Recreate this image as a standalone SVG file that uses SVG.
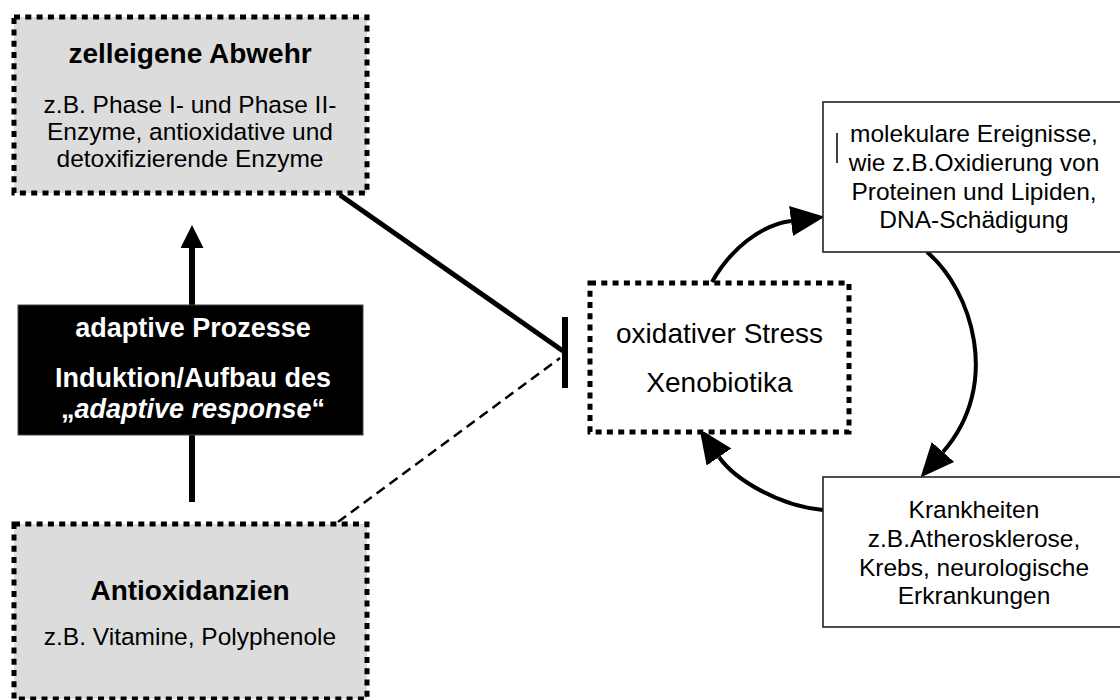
<svg xmlns="http://www.w3.org/2000/svg" width="1120" height="700" viewBox="0 0 1120 700">
  <style>
    text { font-family: "Liberation Sans", Arial, sans-serif; fill: #000; text-anchor: middle; }
    .title { font-size: 28px; font-weight: bold; }
    .body { font-size: 24.5px; }
    .big { font-size: 28px; }
    .inv { font-size: 27px; font-weight: bold; fill: #fff; }
    .dotbox { stroke: #000; stroke-width: 5; stroke-dasharray: 6 5.3; }
    .gray { fill: #dcdcdc; }
    .plain { fill: #fff; stroke: #222; stroke-width: 1.6; }
    .conn { fill: none; stroke: #000; }
  </style>
  <defs>
    <marker id="arrowBig" markerUnits="userSpaceOnUse" markerWidth="34" markerHeight="30" viewBox="0 0 34 30" refX="0" refY="15" orient="auto">
      <path d="M0,0 L34,15 L0,30 z" fill="#000"/>
    </marker>
    <marker id="arrowSmall" markerUnits="userSpaceOnUse" markerWidth="23" markerHeight="23" viewBox="0 0 23 23" refX="0" refY="11.5" orient="auto">
      <path d="M0,0 L23,11.5 L0,23 z" fill="#000"/>
    </marker>
  </defs>

  <g id="connectors">
    <path class="conn" d="M192,305 L192,248" stroke-width="6" marker-end="url(#arrowSmall)"/>
    <path class="conn" d="M192,435 L192,502" stroke-width="6"/>
    <path class="conn" d="M340,195 L563,351" stroke-width="5"/>
    <path class="conn" d="M565,317 L565,388" stroke-width="6"/>
    <path class="conn" d="M338,522 L560,358" stroke-width="2.5" stroke-dasharray="10 6"/>
    <path class="conn" d="M712,282 C730,250 760,225 791,221" stroke-width="4" marker-end="url(#arrowBig)"/>
    <path class="conn" d="M927,252 C972,290 1002,385 943,452" stroke-width="4" marker-end="url(#arrowBig)"/>
    <path class="conn" d="M823,510 C780,506 735,480 719,457" stroke-width="4" marker-end="url(#arrowBig)"/>
  </g>

  <g id="zelleigene-abwehr">
    <rect class="dotbox gray" x="14" y="17" width="353" height="176"/>
    <text class="title" x="190" y="63">zelleigene Abwehr</text>
    <text class="body" x="190" y="113">z.B. Phase I- und Phase II-</text>
    <text class="body" x="190" y="140">Enzyme, antioxidative und</text>
    <text class="body" x="190" y="167">detoxifizierende Enzyme</text>
  </g>

  <g id="adaptive-prozesse">
    <rect x="18" y="305" width="345" height="130" fill="#000" stroke="#444" stroke-width="1"/>
    <text class="inv" x="193" y="337">adaptive Prozesse</text>
    <text class="inv" x="193" y="387">Induktion/Aufbau des</text>
    <text class="inv" x="193" y="418">„<tspan font-style="italic">adaptive response</tspan>“</text>
  </g>

  <g id="antioxidanzien">
    <rect class="dotbox gray" x="14" y="524" width="353" height="175"/>
    <text class="title" x="190" y="600">Antioxidanzien</text>
    <text class="body" x="190" y="645">z.B. Vitamine, Polyphenole</text>
  </g>

  <g id="oxidativer-stress">
    <rect class="dotbox" fill="#fff" x="590" y="283" width="259" height="149"/>
    <text class="big" x="719.5" y="343">oxidativer Stress</text>
    <text class="big" x="719.5" y="392">Xenobiotika</text>
  </g>

  <g id="molekulare-ereignisse">
    <rect class="plain" x="823" y="102" width="300" height="150"/>
    <line x1="837" y1="133" x2="837" y2="163" stroke="#000" stroke-width="1.5"/>
    <text class="body" x="974" y="142">molekulare Ereignisse,</text>
    <text class="body" x="974" y="171">wie z.B.Oxidierung von</text>
    <text class="body" x="974" y="199.5">Proteinen und Lipiden,</text>
    <text class="body" x="974" y="228">DNA-Schädigung</text>
  </g>

  <g id="krankheiten">
    <rect class="plain" x="823" y="477" width="300" height="150"/>
    <text class="body" x="974" y="518">Krankheiten</text>
    <text class="body" x="974" y="546.5">z.B.Atherosklerose,</text>
    <text class="body" x="974" y="575.5">Krebs, neurologische</text>
    <text class="body" x="974" y="604">Erkrankungen</text>
  </g>
</svg>
